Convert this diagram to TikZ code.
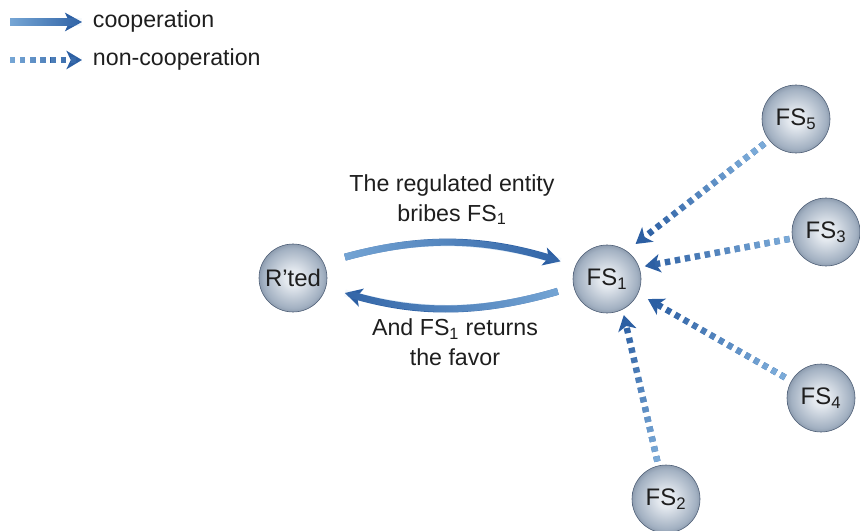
\documentclass[tikz,border=0pt]{standalone}
\usepackage{fontspec}
\setmainfont{Liberation Sans}
\usetikzlibrary{arrows.meta,fadings}
\definecolor{CoopLight}{HTML}{7AAAD8}
\definecolor{CoopDark}{HTML}{2C5FA3}
\definecolor{SphereCore}{HTML}{E4E9EF}
\definecolor{SphereMid}{HTML}{A3B1C2}
\definecolor{SphereRim}{HTML}{4A5B73}
\definecolor{Ink}{HTML}{1E1E1E}
\pgfdeclareradialshading{sphere}{\pgfpoint{0bp}{0bp}}{color(0bp)=(SphereCore); color(6bp)=(SphereCore); color(22bp)=(SphereMid); color(35bp)=(SphereRim); color(50bp)=(SphereRim)}
\tikzfading[name=fadeout, left color=transparent!0, right color=transparent!100]

\begin{document}
\begin{tikzpicture}[
  x=0.025cm,y=-0.025cm,
  ball/.style={circle,shading=sphere,draw=SphereRim,line width=0.4pt,minimum size=1.7cm,inner sep=0pt,font=\fontsize{17}{19}\selectfont,text=Ink},
  note/.style={align=center,font=\fontsize{16.5}{21}\selectfont,text=Ink},
  coop/.style={draw=CoopDark,line width=5pt,-{Stealth[length=12pt,width=13pt,inset=3pt]},
    postaction={draw=CoopLight,-,path fading=fadeout,fading angle=#1}},
  noncoop/.style={draw=CoopDark,line width=4.5pt,dash pattern=on 3.8pt off 3.4pt,-{Stealth[length=11pt,width=13pt,inset=3pt]},
    postaction={draw=CoopLight,-,path fading=fadeout,fading angle=#1}}
]
\useasboundingbox (0,0) rectangle (860,531);
% legend
\coordinate (coopA) at (10,22);
\coordinate (coopB) at (82,22);
\coordinate (nonA) at (10,60);
\coordinate (nonB) at (82,60);
\draw[coop=0] (coopA) -- (coopB);
\draw[noncoop=0] (nonA) -- (nonB);
\node[note,anchor=west] (coopkey) at (88,22) {cooperation};
\node[note,anchor=west] (nonkey) at (88,60) {non-cooperation};
% spheres
\node[ball] (rted) at (293,278) {R'ted};
\node[ball] (fs1) at (607,279) {FS\textsubscript{1}};
\node[ball] (fs2) at (666,499) {FS\textsubscript{2}};
\node[ball] (fs3) at (826,232) {FS\textsubscript{3}};
\node[ball] (fs4) at (821,398) {FS\textsubscript{4}};
\node[ball] (fs5) at (796,119) {FS\textsubscript{5}};
% bribe and favor
\draw[coop=0,shorten <=13pt,shorten >=9pt] ([yshift=0.4cm]rted.east) to[bend left=16] ([yshift=0.35cm]fs1.west);
\draw[coop=180,shorten <=11pt,shorten >=13pt] ([yshift=-0.2cm]fs1.west) to[bend left=16] ([yshift=-0.25cm]rted.east);
\node[note] (bribe) at (452,200) {The regulated entity\\bribes FS\textsubscript{1}};
\node[note] (favor) at (455,342) {And FS\textsubscript{1} returns\\the favor};
% the others do not cooperate
\draw[noncoop=218,shorten <=4pt,shorten >=8pt] (fs5) -- (fs1.55);
\draw[noncoop=190,shorten <=2pt,shorten >=4pt] (fs3) -- (fs1.20);
\draw[noncoop=150,shorten <=5pt,shorten >=8pt] (fs4) -- (fs1.-25);
\draw[noncoop=103,shorten <=3pt,shorten >=4pt] (fs2) -- (fs1.-63);
\end{tikzpicture}
\end{document}
